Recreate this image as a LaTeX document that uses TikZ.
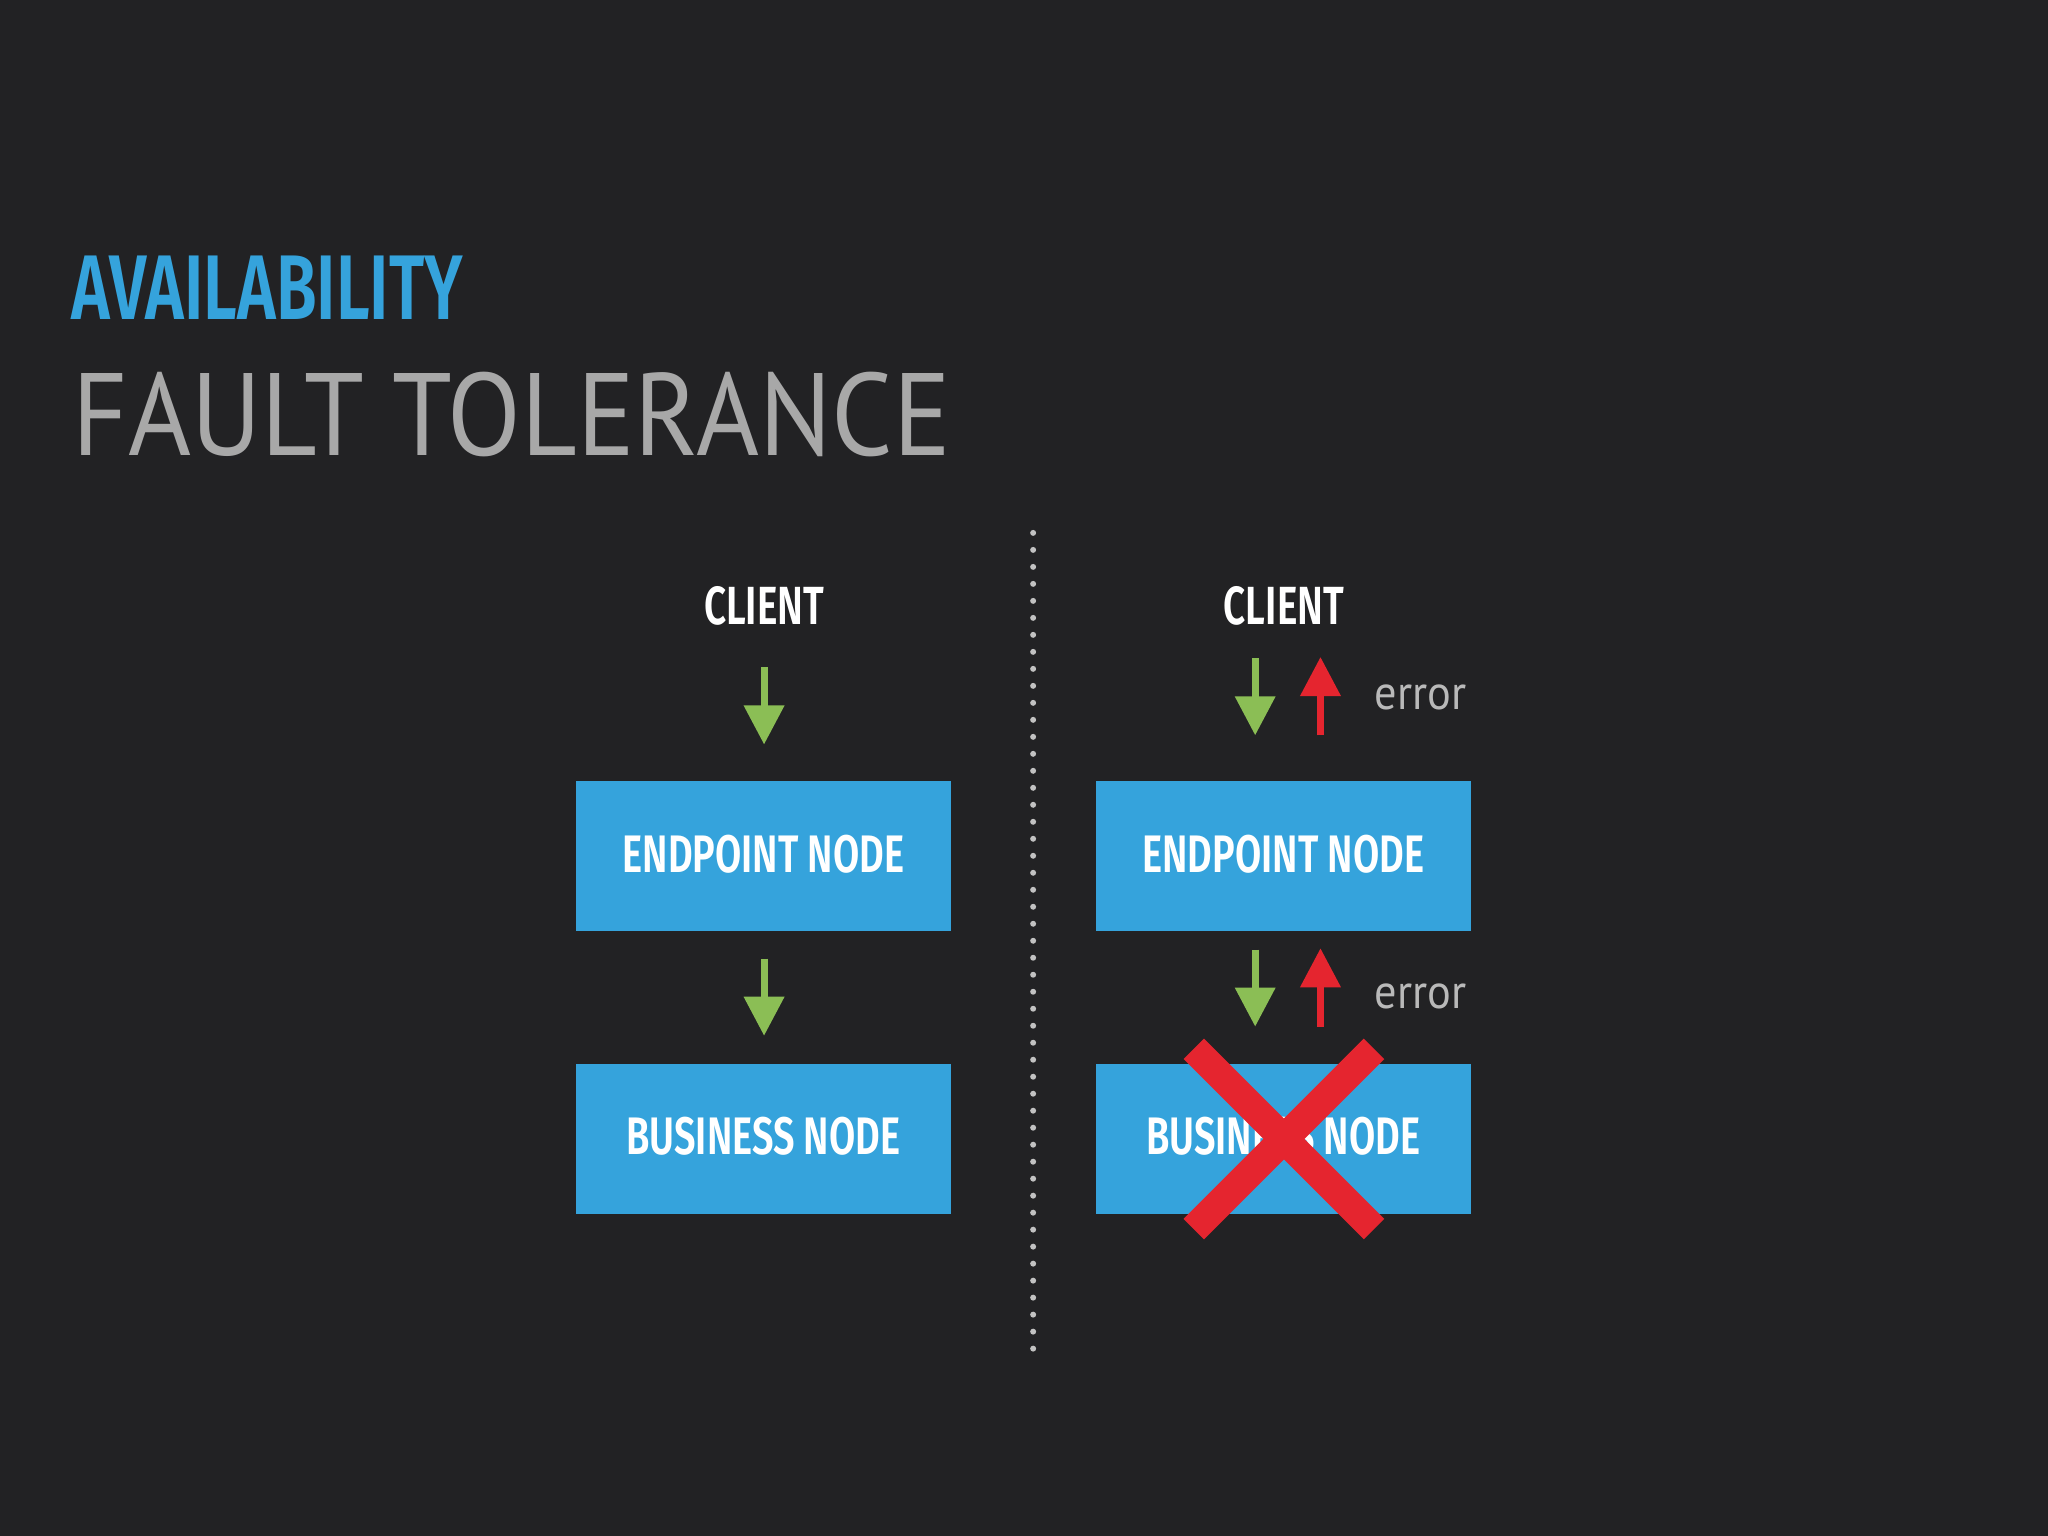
\documentclass[tikz,border=0pt]{standalone}
\usepackage{fontspec}
\usetikzlibrary{arrows.meta}
\newfontfamily\cond[FakeStretch=0.72]{Fira Sans SemiBold}
\newfontfamily\titlefont[FakeStretch=0.92]{PT Sans}
\definecolor{bg}{HTML}{222224}
\definecolor{myblue}{HTML}{35A3DC}
\definecolor{mygreen}{HTML}{8BBE55}
\definecolor{myred}{HTML}{E5252F}
\definecolor{mygrey}{HTML}{A8A8A8}
\tikzset{
  box/.style={fill=myblue,minimum width=2.87cm,minimum height=1.15cm,inner sep=0,text=white,font=\cond\fontsize{11.5}{11.5}\selectfont},
  clientlbl/.style={text=white,font=\cond\fontsize{11.7}{11.7}\selectfont},
  garrow/.style={draw=mygreen,line width=1.5pt,-{Triangle[width=8.5pt,length=8.5pt]}},
  rarrow/.style={draw=myred,line width=1.5pt,-{Triangle[width=8.5pt,length=8.5pt]}},
  errlbl/.style={text=mygrey!80,font=\titlefont\fontsize{10.5}{10.5}\selectfont,anchor=west,inner sep=0}
}
\begin{document}
\begin{tikzpicture}[x=0.01cm,y=-0.01cm]
\fill[bg] (0,0) rectangle (1568,1176);
\useasboundingbox (0,0) rectangle (1568,1176);
\node[anchor=west,inner sep=0,text=myblue,font=\cond\fontsize{20}{20}\selectfont] (t1) at (54,220) {AVAILABILITY};
\node[anchor=west,inner sep=0,text=mygrey,font=\titlefont\fontsize{25.5}{25.5}\selectfont] (t2) at (55,317) {FAULT TOLERANCE};
\draw[mygrey!70,line width=1.3pt,line cap=round,dash pattern=on 0pt off 3.7pt] (791,408) -- (791,1045);
% left
\node[clientlbl] (c1) at (585,464) {CLIENT};
\node[box] (e1) at (584.5,655.5) {\raisebox{1.2pt}{ENDPOINT NODE}};
\node[box] (b1) at (584.5,872) {\raisebox{1.2pt}{BUSINESS NODE}};
\coordinate (a1s) at (585,511); \coordinate (a1e) at (585,570);
\coordinate (a2s) at (585,734); \coordinate (a2e) at (585,793);
\draw[garrow] (a1s) -- (a1e);
\draw[garrow] (a2s) -- (a2e);
% right
\node[clientlbl] (c2) at (983,464) {CLIENT};
\node[box] (e2) at (982.5,655.5) {\raisebox{1.2pt}{ENDPOINT NODE}};
\node[box] (b2) at (982.5,872) {\raisebox{1.2pt}{BUSINESS NODE}};
\coordinate (g1s) at (961,504); \coordinate (g1e) at (961,563);
\coordinate (r1s) at (1011,563); \coordinate (r1e) at (1011,503);
\coordinate (g2s) at (961,727); \coordinate (g2e) at (961,786);
\coordinate (r2s) at (1011,786); \coordinate (r2e) at (1011,726);
\draw[garrow] (g1s) -- (g1e);
\draw[rarrow] (r1s) -- (r1e);
\draw[garrow] (g2s) -- (g2e);
\draw[rarrow] (r2s) -- (r2e);
\node[errlbl] (er1) at (1052,534) {error};
\node[errlbl] (er2) at (1052,763) {error};
\coordinate (x1) at (914,803); \coordinate (x2) at (1052,941);
\coordinate (x3) at (1052,803); \coordinate (x4) at (914,941);
\draw[myred,line width=6.3pt] (x1) -- (x2);
\draw[myred,line width=6.3pt] (x3) -- (x4);
\end{tikzpicture}
\end{document}
